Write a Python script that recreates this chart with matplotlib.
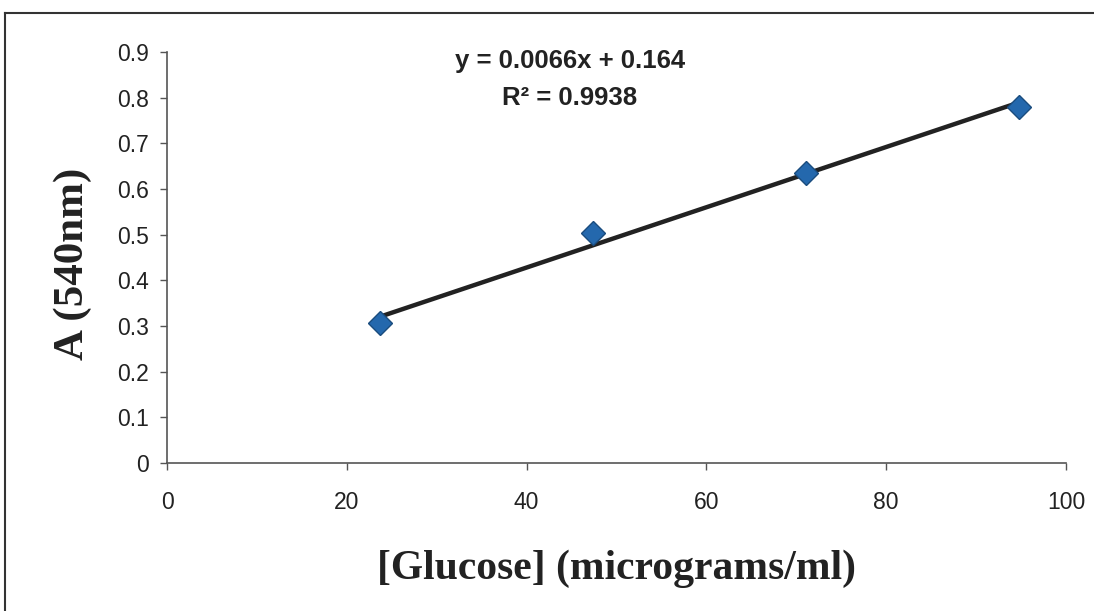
import matplotlib.pyplot as plt
from matplotlib.lines import Line2D
from matplotlib.ticker import FuncFormatter

# --- dati ---
glucose = [23.7, 47.4, 71.1, 94.8]
absorbance = [0.307, 0.503, 0.636, 0.779]
slope = 0.0066
intercept = 0.164
r2 = 0.9938
x_ticks = [0, 20, 40, 60, 80, 100]
y_ticks = [0, 0.1, 0.2, 0.3, 0.4, 0.5, 0.6, 0.7, 0.8, 0.9]

fig = plt.figure(figsize=(10.94, 6.11), dpi=100)
ax = fig.add_axes([167 / 1094, 1 - 463 / 611, (1066 - 167) / 1094, (463 - 52) / 611])

# linea di tendenza dal primo all'ultimo punto
x_fit = [glucose[0], glucose[-1]]
y_fit = [slope * x + intercept for x in x_fit]
ax.plot(x_fit, y_fit, color='#222222', linewidth=3.2, solid_capstyle='butt', zorder=2)
ax.plot(glucose, absorbance, linestyle='none', marker='D', markersize=12,
        markerfacecolor='#2468ad', markeredgecolor='#1a4c7e', markeredgewidth=1, zorder=3)

ax.set_xlim(0, 100)
ax.set_ylim(0, 0.9)
ax.set_xticks(x_ticks)
ax.set_yticks(y_ticks)
ax.yaxis.set_major_formatter(FuncFormatter(lambda v, p: '0' if v == 0 else f'{v:.1f}'))

for s in ['top', 'right']:
    ax.spines[s].set_visible(False)
for s in ['left', 'bottom']:
    ax.spines[s].set_color('#555555')
    ax.spines[s].set_linewidth(1.2)

ax.tick_params(axis='both', direction='out', length=5, width=1, color='#555555',
               labelsize=16.5, labelcolor='#222222')
ax.tick_params(axis='x', pad=15)
ax.tick_params(axis='y', pad=8)
for lab in ax.get_xticklabels() + ax.get_yticklabels():
    lab.set_fontfamily('Liberation Sans')

ax.set_xlabel('[Glucose] (micrograms/ml)', fontsize=30, fontweight='bold',
              family='Liberation Serif', color='#222222', labelpad=26)
ax.set_ylabel('A (540nm)', fontsize=31, fontweight='bold',
              family='Liberation Serif', color='#222222')
ax.yaxis.set_label_coords(-0.083, 0.485)

# equazione della retta
ax.text(44.8, 0.880, f'y = {slope}x + {intercept}', ha='center', va='center',
        fontsize=18.5, fontweight='bold', family='Liberation Sans', color='#222222')
ax.text(44.8, 0.80, f'R\u00b2 = {r2}', ha='center', va='center',
        fontsize=18.5, fontweight='bold', family='Liberation Sans', color='#222222')

# cornice esterna (tagliata a destra e in basso come nella scansione)
fig.add_artist(Line2D([5 / 1094, 1], [1 - 13 / 611, 1 - 13 / 611], color='#333333', linewidth=1.5))
fig.add_artist(Line2D([5 / 1094, 5 / 1094], [0, 1 - 13 / 611], color='#333333', linewidth=1.5))

fig.savefig('out.png', dpi=100)
plt.close()
